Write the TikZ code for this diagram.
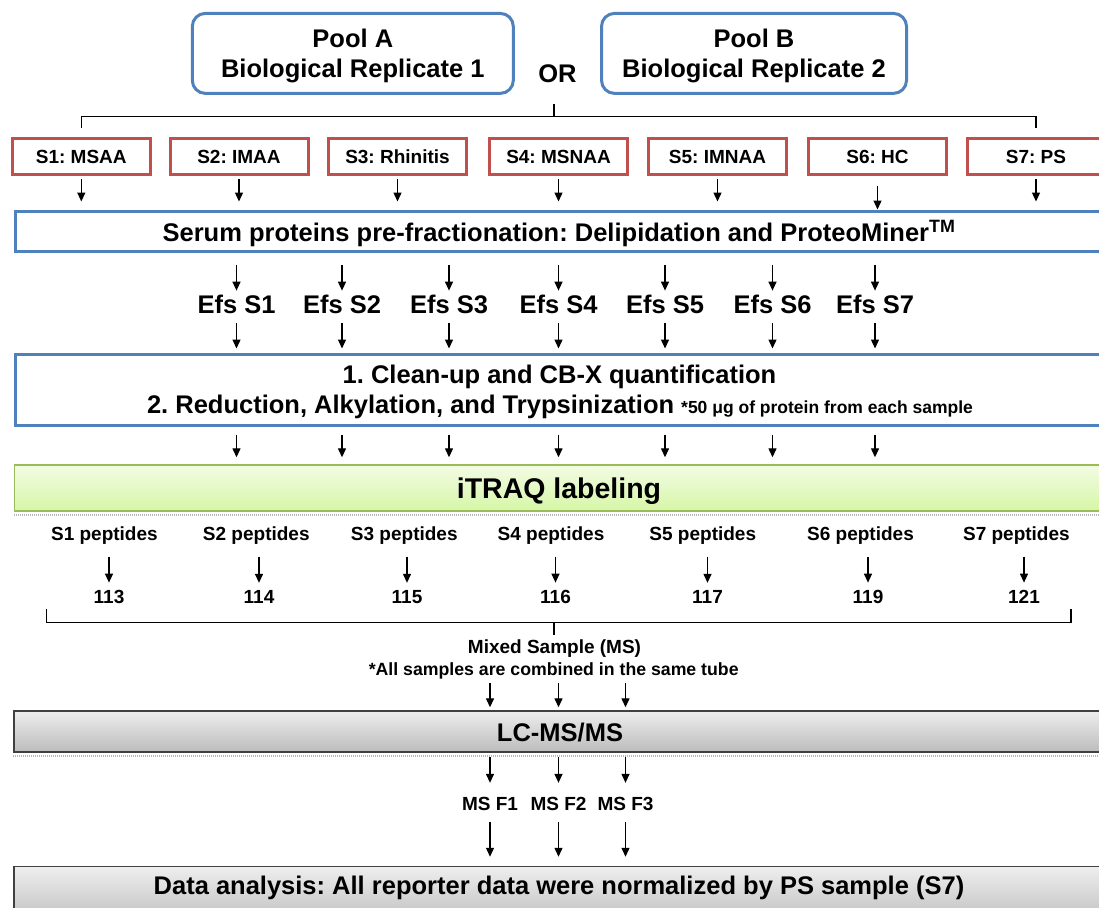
\documentclass[tikz,border=0pt]{standalone}
\usepackage{fontspec}
\setmainfont{Liberation Sans}
\usetikzlibrary{arrows.meta}
\definecolor{poolblue}{RGB}{79,129,189}
\definecolor{sred}{RGB}{192,80,77}
\definecolor{gline}{RGB}{155,187,89}
\definecolor{gtop}{RGB}{243,252,229}
\definecolor{gbot}{RGB}{214,246,166}
\definecolor{ytop}{RGB}{238,238,238}
\definecolor{ybot}{RGB}{188,188,188}
\newcommand{\myfs}[1]{\fontsize{#1}{#1}\selectfont\bfseries}
\frenchspacing
\begin{document}
\begin{tikzpicture}[x=1pt,y=-1pt,
  arr/.style={line width=1.3pt,-{Triangle[width=8pt,length=9pt]}},
  poolbox/.style={draw=poolblue,line width=3pt,rounded corners=13pt,inner sep=0pt},
  sbox/.style={draw=sred,line width=3pt,minimum width=138pt,minimum height=35.5pt,inner sep=0pt,text height=13.6pt,text depth=0pt,font=\myfs{19}},
  bluebar/.style={draw=poolblue,line width=3pt,inner sep=0pt,minimum width=1100pt,anchor=west},
  greenbar/.style={draw=gline,line width=1.5pt,top color=gtop,bottom color=gbot,inner sep=0pt,minimum width=1100pt,anchor=west},
  graybar/.style={draw=black!75,line width=1.5pt,top color=ytop,bottom color=ybot,inner sep=0pt,minimum width=1100pt},
  shadowl/.style={black!28,line width=2pt,dash pattern=on 1pt off 1pt},
  txt/.style={inner sep=0pt,anchor=base},
  efs/.style={font=\myfs{25.5},inner xsep=0pt,inner ysep=4pt},
  brk/.style={line width=1.3pt},
]
\useasboundingbox (0,0) rectangle (1099,907);
\clip (0,0) rectangle (1099,907);
\fill[white] (0,0) rectangle (1099,907);

% pools
\node[poolbox,minimum width=321pt,minimum height=80pt] (poolA) at (352.8,53.4) {};
\node[txt,font=\myfs{25.5}] (poolAa) at (352.8,47.7) {Pool A};
\node[txt,font=\myfs{25.5}] (poolAb) at (352.8,77.3) {Biological Replicate 1};
\node[poolbox,minimum width=305pt,minimum height=80pt] (poolB) at (754,53.4) {};
\node[txt,font=\myfs{25.5}] (poolBa) at (754,47.7) {Pool B};
\node[txt,font=\myfs{25.5}] (poolBb) at (754,77.3) {Biological Replicate 2};
\node[txt,font=\myfs{25.5}] (or) at (557.5,82.5) {OR};

% sample boxes
\node[sbox] (s1) at (81.3,156.3) {S1: MSAA};
\node[sbox] (s2) at (239,156.3) {S2: IMAA};
\node[sbox] (s3) at (397.5,156.3) {S3: Rhinitis};
\node[sbox] (s4) at (558.5,156.3) {S4: MSNAA};
\node[sbox] (s5) at (717.5,156.3) {S5: IMNAA};
\node[sbox] (s6) at (877.5,156.3) {S6: HC};
\node[sbox] (s7) at (1036,156.3) {S7: PS};

% bracket 1
\coordinate (brA) at (81.3,128);
\coordinate (brB) at (1036,128);
\coordinate (brM) at (554,104);
\coordinate (brT) at (554,116.7);
\draw[brk] (brA) -- (brA |- brT) -- (brB |- brT) -- (brB);
\draw[brk] (brM) -- (brT);

% serum bar
\node[bluebar,minimum height=40pt] (serum) at (13.5,231.5) {};
\node[txt,font=\myfs{25.5}] (serumt) at (559,241.7) {Serum proteins pre-fractionation: Delipidation and ProteoMiner\textsuperscript{TM}};
\foreach \i in {1,2,3,4,5,7}
  \draw[arr,shorten <=3.5pt,shorten >=8.5pt] (s\i.south) -- (s\i.south |- serum.north);
\draw[arr,shorten <=10.5pt,shorten >=0.5pt] (s6.south) -- (s6.south |- serum.north);

% Efs
\node[efs] (e1) at (236.5,304.2) {Efs S1};
\node[efs] (e2) at (342,304.2) {Efs S2};
\node[efs] (e3) at (449,304.2) {Efs S3};
\node[efs] (e4) at (558.5,304.2) {Efs S4};
\node[efs] (e5) at (665,304.2) {Efs S5};
\node[efs] (e6) at (772.5,304.2) {Efs S6};
\node[efs] (e7) at (875,304.2) {Efs S7};

% clean-up bar
\node[bluebar,minimum height=71.3pt] (clean) at (13.5,389.85) {};
\node[txt,font=\myfs{25.5}] (c1) at (559.5,383.3) {1. Clean-up and CB-X quantification};
\node[txt,font=\myfs{25.5}] (c2) at (560,413.3) {2. Reduction, Alkylation, and Trypsinization {\myfs{17.5}*50 μg of protein from each sample}};

% iTRAQ bar
\node[greenbar,minimum height=46.3pt] (itraq) at (13.75,487.9) {};
\node[txt,font=\myfs{28.5}] (itraqt) at (559,498.3) {iTRAQ labeling};
\draw[shadowl] ([yshift=-3pt]itraq.south west) -- ([yshift=-3pt]itraq.south east);

\foreach \i in {1,...,7}{
  \draw[arr,shorten <=11.8pt] (e\i.north |- serum.south) -- (e\i.north);
  \draw[arr,shorten <=5.4pt,shorten >=4.2pt] (e\i.south) -- (e\i.south |- clean.north);
  \draw[arr,shorten <=7.5pt,shorten >=6.7pt] (e\i.south |- clean.south) -- (e\i.south |- itraq.north);
}

% peptides and reporter numbers
\node[txt,font=\myfs{19}] (p1) at (104.4,540) {S1 peptides};
\node[txt,font=\myfs{19}] (p2) at (256.3,540) {S2 peptides};
\node[txt,font=\myfs{19}] (p3) at (404.3,540) {S3 peptides};
\node[txt,font=\myfs{19}] (p4) at (551,540) {S4 peptides};
\node[txt,font=\myfs{19}] (p5) at (702.8,540) {S5 peptides};
\node[txt,font=\myfs{19}] (p6) at (860.5,540) {S6 peptides};
\node[txt,font=\myfs{19}] (p7) at (1016.4,540) {S7 peptides};
\node[txt,font=\myfs{19}] (n1) at (109,603.3) {113};
\node[txt,font=\myfs{19}] (n2) at (259,603.3) {114};
\node[txt,font=\myfs{19}] (n3) at (407,603.3) {115};
\node[txt,font=\myfs{19}] (n4) at (555.5,603.3) {116};
\node[txt,font=\myfs{19}] (n5) at (707.5,603.3) {117};
\node[txt,font=\myfs{19}] (n6) at (868,603.3) {119};
\node[txt,font=\myfs{19}] (n7) at (1024,603.3) {121};
\foreach \i in {1,...,7}
  \draw[arr,shorten <=12.5pt,shorten >=7.2pt] (n\i.north |- p\i.south) -- (n\i.north);

% bracket 2
\coordinate (bqA) at (46.7,609);
\coordinate (bqB) at (1071,609);
\coordinate (bqT) at (554,622.7);
\coordinate (bqM) at (554,635);
\draw[brk] (bqA) -- (bqA |- bqT) -- (bqB |- bqT) -- (bqB);
\draw[brk] (bqT) -- (bqM);

\node[txt,font=\myfs{19}] (mix) at (554.5,653.5) {Mixed Sample (MS)};
\node[txt,font=\myfs{17.7}] (mix2) at (553.7,675) {*All samples are combined in the same tube};

% LC-MS/MS
\node[graybar,anchor=west,minimum height=41.2pt] (lc) at (13.45,731.35) {};
\node[txt,font=\myfs{25.5}] (lct) at (560,741.7) {LC-MS/MS};
\draw[shadowl] ([yshift=-3pt]lc.south west) -- ([yshift=-3pt]lc.south east);

\node[txt,font=\myfs{19}] (f1) at (490,810.7) {MS F1};
\node[txt,font=\myfs{19}] (f2) at (558.5,810.7) {MS F2};
\node[txt,font=\myfs{19}] (f3) at (625.5,810.7) {MS F3};

% data analysis
\node[graybar,anchor=north west,minimum height=60pt] (data) at (13.45,865.75) {};
\node[txt,font=\myfs{25.5}] (datat) at (559,894) {Data analysis: All reporter data were normalized by PS sample (S7)};

\foreach \i in {1,2,3}{
  \draw[arr,shorten <=4.2pt,shorten >=2.7pt] (f\i.north |- mix2.south) -- (f\i.north |- lc.north);
  \draw[arr,shorten <=4.7pt,shorten >=14.4pt] (f\i.north |- lc.south) -- (f\i.north);
  \draw[arr,shorten <=10.8pt,shorten >=9pt] (f\i.south) -- (f\i.south |- data.north);
}
\end{tikzpicture}
\end{document}
